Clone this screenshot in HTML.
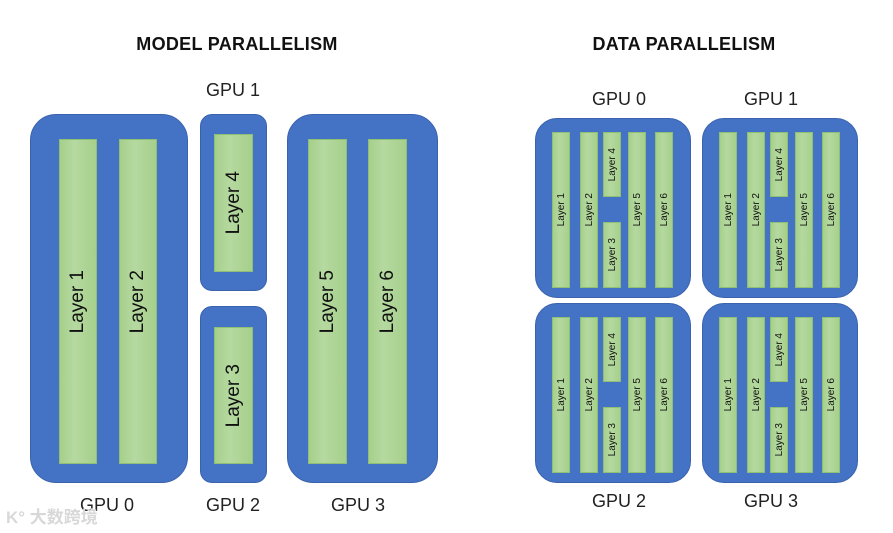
<!DOCTYPE html>
<html><head><meta charset="utf-8"><style>
body{margin:0;width:893px;height:533px;background:#fff;position:relative;overflow:hidden;font-family:"Liberation Sans","Noto Sans CJK SC",sans-serif;}
.a{position:absolute;}
.gpu{position:absolute;background:#4472c4;border:1px solid #3b63ad;box-sizing:border-box;}
.bar{position:absolute;background:linear-gradient(90deg,#a6cf8b,#b5d9a0 40%,#a6cf8b);border:1px solid #8fbf74;box-sizing:border-box;display:flex;align-items:center;justify-content:center;}
.bar span{writing-mode:vertical-rl;transform:rotate(180deg);color:#111;white-space:nowrap;}
.big span{font-size:19px;}
.sm span{font-size:10px;}
.lbl{position:absolute;font-size:18px;color:#222;text-align:center;width:120px;}
.title{position:absolute;font-weight:bold;font-size:18px;letter-spacing:0.3px;color:#111;text-align:center;width:300px;}
</style></head><body>
<div class="title" style="left:87px;top:34px;">MODEL PARALLELISM</div>
<div class="title" style="left:534px;top:34px;">DATA PARALLELISM</div>

<div class="gpu" style="left:30px;top:114px;width:158px;height:369px;border-radius:26px;"></div>
<div class="bar big" style="left:59px;top:139px;width:38px;height:325px;"><span>Layer 1</span></div>
<div class="bar big" style="left:119px;top:139px;width:38px;height:325px;"><span>Layer 2</span></div>

<div class="gpu" style="left:200px;top:114px;width:67px;height:177px;border-radius:12px;"></div>
<div class="bar big" style="left:214px;top:134px;width:39px;height:138px;"><span>Layer 4</span></div>
<div class="gpu" style="left:200px;top:306px;width:67px;height:177px;border-radius:12px;"></div>
<div class="bar big" style="left:214px;top:327px;width:39px;height:137px;"><span>Layer 3</span></div>

<div class="gpu" style="left:287px;top:114px;width:151px;height:369px;border-radius:26px;"></div>
<div class="bar big" style="left:308px;top:139px;width:39px;height:325px;"><span>Layer 5</span></div>
<div class="bar big" style="left:368px;top:139px;width:39px;height:325px;"><span>Layer 6</span></div>

<div class="lbl" style="left:47px;top:495px;">GPU 0</div>
<div class="lbl" style="left:173px;top:80px;">GPU 1</div>
<div class="lbl" style="left:173px;top:495px;">GPU 2</div>
<div class="lbl" style="left:298px;top:495px;">GPU 3</div>

<div id="d"></div>
<script>
var html='';
var offs=[[0,0],[167,0],[0,185],[167,185]];
offs.forEach(function(o){
 var x=o[0],y=o[1];
 html+='<div class="gpu" style="left:'+(535+x)+'px;top:'+(118+y)+'px;width:156px;height:180px;border-radius:22px;"></div>';
 var bars=[[552,132,156,'Layer 1'],[580,132,156,'Layer 2'],[603,132,65,'Layer 4'],[603,222,66,'Layer 3'],[628,132,156,'Layer 5'],[655,132,156,'Layer 6']];
 bars.forEach(function(b){
  html+='<div class="bar sm" style="left:'+(b[0]+x)+'px;top:'+(b[1]+y)+'px;width:18px;height:'+b[2]+'px;"><span>'+b[3]+'</span></div>';
 });
});
document.getElementById('d').innerHTML=html;
</script>
<div class="lbl" style="left:559px;top:89px;">GPU 0</div>
<div class="lbl" style="left:711px;top:89px;">GPU 1</div>
<div class="lbl" style="left:559px;top:491px;">GPU 2</div>
<div class="lbl" style="left:711px;top:491px;">GPU 3</div>

<div class="a" style="left:6px;top:503px;font-size:17px;color:#d8d8d8;font-weight:bold;">K° 大数跨境</div>
</body></html>
